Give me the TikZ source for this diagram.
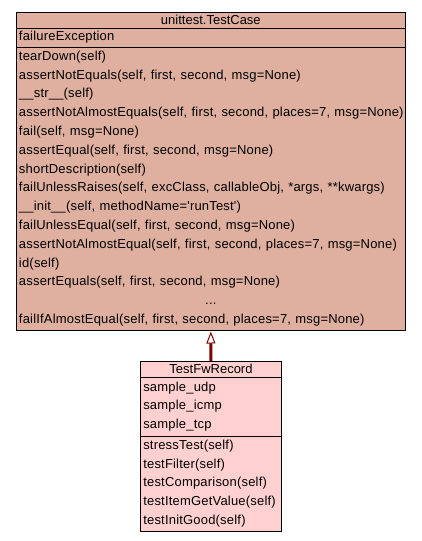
\documentclass[tikz,border=0pt]{standalone}
\usepackage{fontspec}
\setmainfont{Liberation Sans}
\newfontfamily\memberfont[LetterSpace=1.5]{Liberation Sans}
\usepackage{xcolor}
\usetikzlibrary{arrows.meta,positioning}

\definecolor{baseclass}{RGB}{223,176,160}
\definecolor{subclass}{RGB}{255,208,208}
\definecolor{inherit}{RGB}{128,0,0}

\begin{document}
\begin{tikzpicture}[
  x=1pt, y=-1pt,
  title/.style={rectangle, draw, line width=0.8pt, inner sep=0pt, outer sep=0pt, minimum height=16pt, font=\fontsize{13}{15}\selectfont},
  members/.style={rectangle, draw, line width=0.8pt, inner xsep=3pt, inner ysep=0pt, outer sep=0pt, align=left, font=\memberfont\fontsize{13}{18.8}\selectfont},
  arrow/.style={-{Triangle[open, length=12pt, width=9pt, line width=1pt]}, line width=3pt, color=inherit, shorten >=1.5pt}
]
\useasboundingbox (0,0) rectangle (421,541);

% Base class
\node[title, fill=baseclass, minimum width=389.7pt] (tc) at (210.85,20) {unittest.TestCase};
\node[members, fill=baseclass, text width=383.7pt, minimum height=19pt, below=0pt of tc] (tcattr) {failureException};
\node[members, fill=baseclass, text width=383.7pt, minimum height=283pt, below=0pt of tcattr] (tcops) {tearDown(self)\\
assertNotEquals(self, first, second, msg=None)\\
\_\_str\_\_(self)\\
assertNotAlmostEquals(self, first, second, places=7, msg=None)\\
fail(self, msg=None)\\
assertEqual(self, first, second, msg=None)\\
shortDescription(self)\\
failUnlessRaises(self, excClass, callableObj, *args, **kwargs)\\
\_\_init\_\_(self, methodName='runTest')\\
failUnlessEqual(self, first, second, msg=None)\\
assertNotAlmostEqual(self, first, second, places=7, msg=None)\\
id(self)\\
assertEquals(self, first, second, msg=None)\\
\hfill...\hfill\null\\
failIfAlmostEqual(self, first, second, places=7, msg=None)};

% Derived class
\node[title, fill=subclass, minimum width=141.4pt] (rec) at (211,369) {TestFwRecord};
\node[members, fill=subclass, text width=135.4pt, minimum height=59pt, below=0pt of rec] (recattr) {sample\_udp\\
sample\_icmp\\
sample\_tcp};
\node[members, fill=subclass, text width=135.4pt, minimum height=95pt, below=0pt of recattr] (recops) {stressTest(self)\\
testFilter(self)\\
testComparison(self)\\
testItemGetValue(self)\\
testInitGood(self)};

% Inheritance
\draw[arrow] (rec.north) -- (tcops.south);

\end{tikzpicture}
\end{document}
